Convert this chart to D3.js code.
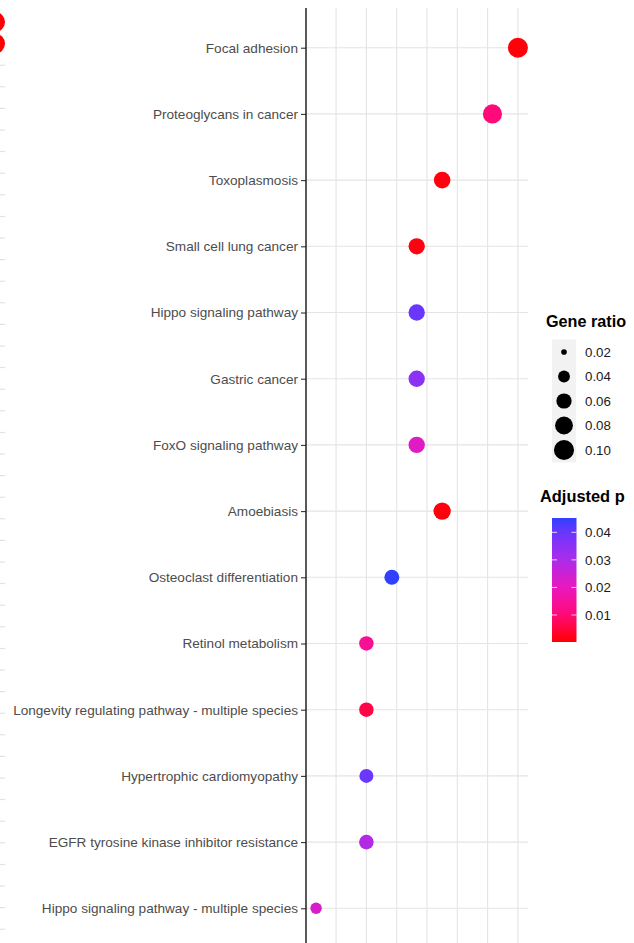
<!DOCTYPE html>
<html>
<head>
<meta charset="utf-8">
<script src="https://cdn.jsdelivr.net/npm/d3@7"></script>
<style>
    body { margin: 0; background: #fff; }
    svg { display: block; font-family: "Liberation Sans", Arial, sans-serif; }
</style>
</head>
<body>
<div id="chart_dot"></div>
<script>
// pathways, top to bottom
const pathways = [
    "Focal adhesion",
    "Proteoglycans in cancer",
    "Toxoplasmosis",
    "Small cell lung cancer",
    "Hippo signaling pathway",
    "Gastric cancer",
    "FoxO signaling pathway",
    "Amoebiasis",
    "Osteoclast differentiation",
    "Retinol metabolism",
    "Longevity regulating pathway - multiple species",
    "Hypertrophic cardiomyopathy",
    "EGFR tyrosine kinase inhibitor resistance",
    "Hippo signaling pathway - multiple species"
];
// x position (ratio of genes in list)
const xRatio = [0.0500, 0.0458, 0.0375, 0.0333, 0.0333, 0.0333, 0.0333, 0.0375, 0.0292, 0.0250, 0.0250, 0.0250, 0.0250, 0.0167];
// point size (gene ratio)
const geneRatio = [0.099, 0.091, 0.070, 0.068, 0.068, 0.068, 0.068, 0.076, 0.058, 0.055, 0.055, 0.052, 0.056, 0.038];
// colour (adjusted p)
const adjP = [0.0008, 0.0100, 0.0010, 0.0015, 0.0400, 0.0350, 0.0215, 0.0010, 0.0452, 0.0140, 0.0060, 0.0400, 0.0290, 0.0230];

const xGrid = [0.020, 0.025, 0.030, 0.035, 0.040, 0.045, 0.050];
const sizeBreaks = [0.02, 0.04, 0.06, 0.08, 0.10];
const pBreaks = [0.01, 0.02, 0.03, 0.04];
const pLimits = [0.0002, 0.0452];

// neighbouring panel, only its right edge is visible
const leftRows = d3.range(43);
const leftPoints = [{row: 0, value: 0.955}, {row: 1, value: 0.955}];

function create_dotplot(id_chart, width, height) {

    const svg = d3.select(id_chart)
        .append("svg")
        .attr("width", width)
        .attr("height", height);

    const x = d3.scaleLinear()
        .domain([0.0167 - 0.05 * 0.0333, 0.05 + 0.05 * 0.0333])
        .range([306, 528]);
    const y = d3.scalePoint()
        .domain(pathways)
        .range([8, 948])
        .padding(0.6);

    const sizeNorm = d3.scaleLinear().domain([0.018, 0.105]).range([0, 1]).clamp(true);
    const r = v => 1.5 + 8.8 * Math.sqrt(sizeNorm(v));

    const color = d3.scaleLinear()
        .domain([0, 0.01, 0.02, 0.03, 0.04, 0.0452])
        .range(["#ff0000", "#ff0a78", "#ea18bd", "#ac2ce9", "#6a37ff", "#3040ff"])
        .clamp(true);

    const data = pathways.map((d, i) => ({name: d, x: xRatio[i], size: geneRatio[i], p: adjP[i]}));

    // neighbour panel stub
    const yLeft = d3.scaleLinear().domain([0, 1]).range([22, 43.6]);
    const xLeft = d3.scaleLinear().domain([0, 1]).range([-217, 5]);
    svg.append("g").selectAll("line")
        .data(leftRows)
        .enter().append("line")
        .attr("x1", 0).attr("x2", xLeft(1))
        .attr("y1", d => yLeft(d)).attr("y2", d => yLeft(d))
        .attr("stroke", "#dedede")
        .attr("stroke-width", 1);
    svg.append("g").selectAll("circle")
        .data(leftPoints)
        .enter().append("circle")
        .attr("cx", d => xLeft(d.value))
        .attr("cy", d => yLeft(d.row))
        .attr("r", 10)
        .attr("fill", "#ff0000");

    // grid
    const grid = svg.append("g");
    grid.selectAll(".vgrid")
        .data(xGrid)
        .enter().append("line")
        .attr("class", "vgrid")
        .attr("x1", d => x(d)).attr("x2", d => x(d))
        .attr("y1", 8).attr("y2", 948)
        .attr("stroke", "#e4e4e4")
        .attr("stroke-width", 1.1);
    grid.selectAll(".hgrid")
        .data(pathways)
        .enter().append("line")
        .attr("class", "hgrid")
        .attr("x1", x.range()[0]).attr("x2", x.range()[1])
        .attr("y1", d => y(d)).attr("y2", d => y(d))
        .attr("stroke", "#e4e4e4")
        .attr("stroke-width", 1.1);

    // y axis
    const yAxis = svg.append("g")
        .attr("transform", "translate(306,0)")
        .call(d3.axisLeft(y).tickSize(5).tickPadding(3).tickSizeOuter(0));
    yAxis.select(".domain").remove();
    yAxis.selectAll(".tick line").attr("stroke", "#333").attr("stroke-width", 1.1);
    yAxis.selectAll(".tick text")
        .attr("fill", "#4d4d4d")
        .style("font-size", "13.6px")
        .style("font-family", "'Liberation Sans', Arial, sans-serif");
    svg.append("line")
        .attr("x1", 306).attr("x2", 306)
        .attr("y1", 8).attr("y2", 948)
        .attr("stroke", "#222")
        .attr("stroke-width", 1.5);

    // points
    svg.append("g").selectAll(".dot")
        .data(data)
        .enter().append("circle")
        .attr("class", "dot")
        .attr("cx", d => x(d.x))
        .attr("cy", d => y(d.name))
        .attr("r", d => r(d.size))
        .attr("fill", d => color(d.p));

    // size legend
    const sl = svg.append("g");
    sl.append("text")
        .attr("x", 546).attr("y", 327)
        .attr("font-weight", "bold")
        .style("font-size", "16.2px")
        .attr("fill", "#000")
        .text("Gene ratio");
    const ky = d3.scaleLinear().domain([0, 4]).range([352, 450]);
    sl.append("rect")
        .attr("x", 552).attr("y", ky(0) - 12.5)
        .attr("width", 24).attr("height", ky(4) - ky(0) + 25)
        .attr("fill", "#f2f2f2");
    sl.selectAll("circle")
        .data(sizeBreaks)
        .enter().append("circle")
        .attr("cx", 564)
        .attr("cy", (d, i) => ky(i))
        .attr("r", d => r(d))
        .attr("fill", "#000");
    sl.selectAll(".lab")
        .data(sizeBreaks)
        .enter().append("text")
        .attr("class", "lab")
        .attr("x", 585)
        .attr("y", (d, i) => ky(i))
        .attr("dy", "0.35em")
        .style("font-size", "13.3px")
        .attr("fill", "#1a1a1a")
        .text(d => d.toFixed(2));

    // colour bar
    const cb = svg.append("g");
    cb.append("text")
        .attr("x", 540).attr("y", 502)
        .attr("font-weight", "bold")
        .style("font-size", "16.4px")
        .attr("fill", "#000")
        .text("Adjusted p");
    const cy = d3.scaleLinear().domain(pLimits).range([642, 518]);
    const grad = svg.append("defs").append("linearGradient")
        .attr("id", "pgrad")
        .attr("x1", 0).attr("x2", 0).attr("y1", 1).attr("y2", 0);
    grad.selectAll("stop")
        .data(d3.range(0, 1.0001, 0.05))
        .enter().append("stop")
        .attr("offset", d => d)
        .attr("stop-color", d => color(pLimits[0] + d * (pLimits[1] - pLimits[0])));
    cb.append("rect")
        .attr("x", 552).attr("y", cy(pLimits[1]))
        .attr("width", 24.5).attr("height", cy(pLimits[0]) - cy(pLimits[1]))
        .attr("fill", "url(#pgrad)");
    cb.selectAll(".tl")
        .data(pBreaks)
        .enter().append("line")
        .attr("x1", 552).attr("x2", 557)
        .attr("y1", d => cy(d)).attr("y2", d => cy(d))
        .attr("stroke", "#fff").attr("stroke-opacity", 0.8);
    cb.selectAll(".tr")
        .data(pBreaks)
        .enter().append("line")
        .attr("x1", 571.5).attr("x2", 576.5)
        .attr("y1", d => cy(d)).attr("y2", d => cy(d))
        .attr("stroke", "#fff").attr("stroke-opacity", 0.8);
    cb.selectAll(".lab")
        .data(pBreaks)
        .enter().append("text")
        .attr("class", "lab")
        .attr("x", 585)
        .attr("y", d => cy(d))
        .attr("dy", "0.35em")
        .style("font-size", "13.3px")
        .attr("fill", "#1a1a1a")
        .text(d => d.toFixed(2));
}

create_dotplot("#chart_dot", 634, 943);
</script>
</body>
</html>
